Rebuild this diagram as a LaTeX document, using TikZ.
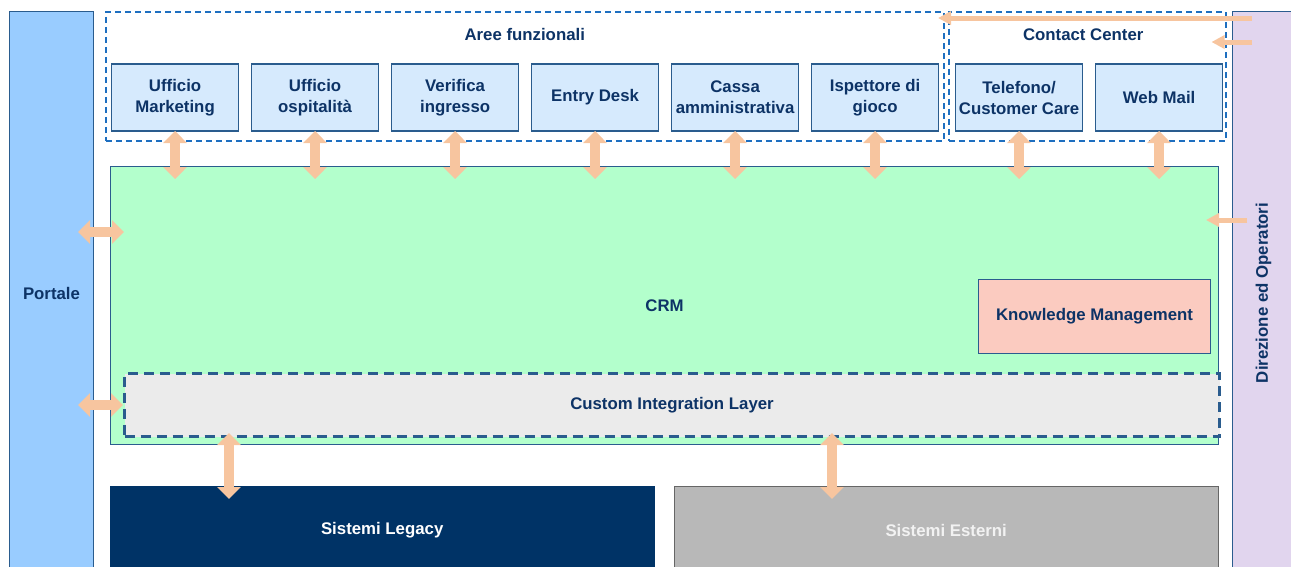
\documentclass[tikz,border=0pt]{standalone}
\usepackage{fontspec}
\setmainfont{Liberation Sans}
\usetikzlibrary{positioning, arrows.meta}
\definecolor{txt}{HTML}{0D3366}
\definecolor{portalec}{HTML}{99CCFF}
\definecolor{dirc}{HTML}{E1D5EE}
\definecolor{linec}{HTML}{2A5C8E}
\definecolor{groupc}{HTML}{1E6FC0}
\definecolor{unitc}{HTML}{D6EAFD}
\definecolor{crmc}{HTML}{B3FFCC}
\definecolor{kmc}{HTML}{FBCBC0}
\definecolor{layerc}{HTML}{EBEBEB}
\definecolor{legacyc}{HTML}{003366}
\definecolor{extc}{HTML}{B8B8B8}
\definecolor{arrowc}{HTML}{F7C59F}
\tikzset{
x=1pt, y=-1pt, % one unit is one pixel, y runs downwards
every node/.style={font=\bfseries\fontsize{16.8}{21}\selectfont, text=txt, align=center}, % text of every box
bar/.style={draw=linec, line width=1pt}, % the two side bars
group/.style={draw=groupc, line width=1.5pt, dash pattern=on 6pt off 4pt}, % dashed frame round a group
unit/.style={draw=linec, line width=1.2pt, fill=unitc, minimum width=127pt, minimum height=67pt, inner sep=1pt, outer sep=0pt}, % one office
layer/.style={draw=linec, line width=3pt, dash pattern=on 10pt off 6pt, fill=layerc}, % the integration layer
fatarrow/.style={draw=arrowc, line width=10pt, {Triangle[width=23pt,length=12pt]}-{Triangle[width=23pt,length=12pt]}}, % two-way link
thinarrow/.style={draw=arrowc, line width=5pt, -{Triangle[width=13pt,length=13pt]}}, % one-way link
}
\begin{document}
\begin{tikzpicture}
  \useasboundingbox (0,0) rectangle (1291,566);
  % side bars
  \node[bar, fill=portalec, minimum width=84pt, minimum height=563pt, anchor=north west] (portale) at (9,11) {Portale};
  \node[bar, fill=dirc, minimum width=62pt, minimum height=563pt, anchor=north west] (dir) at (1232,11) {\rotatebox{90}{Direzione ed Operatori}};
  % groups of offices
  \node[group, minimum width=838pt, minimum height=129pt, anchor=north west] (aree) at (105,11) {};
  \node (areet) at ([yshift=-23pt]aree.north) {Aree funzionali};
  \node[group, minimum width=277pt, minimum height=129pt, anchor=north west] (cc) at (948,11) {};
  \node (cct) at ([xshift=-4pt,yshift=-24pt]cc.north) {Contact Center};
  \node[unit, anchor=north west] (mkt) at (111.6,64) {Ufficio\\Marketing};
  \node[unit, right=13pt of mkt] (osp) {Ufficio\\ospitalità};
  \node[unit, right=13pt of osp] (ver) {Verifica\\ingresso};
  \node[unit, right=13pt of ver] (ent) {Entry Desk};
  \node[unit, right=13pt of ent] (cas) {Cassa\\amministrativa};
  \node[unit, right=13pt of cas] (isp) {Ispettore di\\gioco};
  \node[unit, right=17pt of isp] (tel) {Telefono/\\Customer Care};
  \node[unit, right=13pt of tel] (web) {Web Mail};
  % core
  \node[draw=linec, line width=1pt, fill=crmc, minimum width=1108pt, minimum height=278pt, anchor=north west] (crm) at (110,166) {CRM};
  \node[draw=linec, line width=1pt, fill=kmc, minimum width=232pt, minimum height=74pt, anchor=north west] (km) at (978,279) {Knowledge Management};
  \node[layer, minimum width=1095pt, minimum height=63pt, anchor=north west] (cil) at (123,372) {Custom Integration Layer};
  % back ends
  \node[draw=legacyc, fill=legacyc, text=white, minimum width=544pt, minimum height=88pt, anchor=north west] (legacy) at (110,486) {Sistemi Legacy};
  \node[draw=black!60, fill=extc, text=white!95!black, minimum width=544pt, minimum height=88pt, anchor=north west] (ext) at (674,486) {Sistemi Esterni};
  % links
  \foreach \n in {mkt,osp,ver,ent,cas,isp,tel,web}
    \draw[fatarrow] (\n.south) -- ([yshift=-13pt]\n.south |- crm.north);
  \draw[fatarrow] ([shift={(-16pt,-66pt)}]portale.east |- crm.north) -- ([shift={(14pt,-66pt)}]crm.north west);
  \draw[fatarrow] ([xshift=-16pt]portale.east |- cil.west) -- (cil.west);
  \draw[fatarrow] ([xshift=119pt,yshift=5pt]cil.south -| legacy.west) -- ([xshift=119pt,yshift=-13pt]legacy.north west);
  \draw[fatarrow] ([xshift=158pt,yshift=5pt]cil.south -| ext.west) -- ([xshift=158pt,yshift=-13pt]ext.north west);
  \draw[thinarrow] ([shift={(20pt,-7pt)}]dir.north west) -- ([shift={(-10pt,-7pt)}]cc.north west);
  \draw[thinarrow] ([shift={(20pt,-31pt)}]dir.north west) -- ([shift={(-15pt,-31pt)}]cc.north east);
  \draw[thinarrow] ([shift={(15pt,-54pt)}]dir.west |- crm.north) -- ([shift={(-13pt,-54pt)}]crm.north east);
\end{tikzpicture}
\end{document}
